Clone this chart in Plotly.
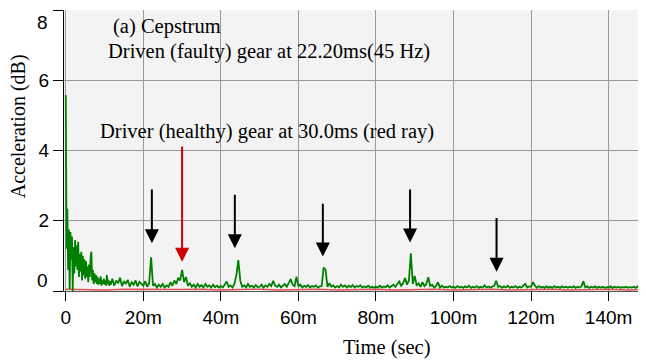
import numpy as np
import plotly.graph_objects as go

# ---- data (time in ms, cepstrum amplitude in dB) ----
# early part, fine sampling (0.2 ms), 0 - 11.8 ms
early_step_ms = 0.2
early_vals = [
    5.58, 1.20, 2.34, 0.60, 1.75, 0.05, 1.68, 0.90, 1.55, 0.00,
    1.25, 0.50, 1.45, 0.70, 1.30, 0.60, 1.40, 0.40, 1.05, 0.55,
    1.12, 0.30, 1.00, 0.45, 0.90, 0.35, 0.85, 0.40, 0.70, 0.25,
    0.75, 0.40, 0.95, 1.12, 0.30, 0.60, 0.20, 0.50, 0.25, 0.45,
    0.20, 0.40, 0.18, 0.35, 0.20, 0.42, 0.15, 0.30, 0.20, 0.35,
    0.18, 0.30, 0.15, 0.45, 0.20, 0.32, 0.15, 0.28, 0.18, 0.30,
]
# main part, 0.5 ms sampling, 12.0 - 149.5 ms
main_start_ms = 12.0
main_step_ms = 0.5
main_vals = [
    0.35, 0.15, 0.30, 0.22, 0.38, 0.14, 0.28, 0.20, 0.32, 0.12, 0.25, 0.18, 0.30, 0.13, 0.26, 0.20,
    0.15, 0.28, 0.12, 0.22, 0.96, 0.15, 0.20, 0.10, 0.18, 0.12, 0.20, 0.10, 0.16, 0.12, 0.25, 0.15, 0.30, 0.20, 0.38, 0.30,
    0.60, 0.25, 0.40, 0.15, 0.22, 0.12, 0.18, 0.10, 0.20, 0.12, 0.17, 0.10, 0.20, 0.12, 0.16, 0.10, 0.18, 0.11, 0.15, 0.10,
    0.14, 0.10, 0.18, 0.27, 0.12, 0.16, 0.10, 0.20, 0.45, 0.88, 0.30, 0.12, 0.16, 0.10, 0.20, 0.12, 0.15, 0.10, 0.17, 0.11,
    0.12, 0.18, 0.10, 0.16, 0.12, 0.20, 0.14, 0.29, 0.15, 0.12, 0.18, 0.10, 0.15, 0.20, 0.12, 0.25, 0.34, 0.18, 0.14, 0.41,
    0.13, 0.18, 0.10, 0.15, 0.12, 0.17, 0.10, 0.14, 0.12, 0.16, 0.10, 0.13, 0.14, 0.67, 0.60, 0.12, 0.22, 0.12, 0.16, 0.10,
    0.14, 0.10, 0.18, 0.12, 0.16, 0.10, 0.15, 0.11, 0.17, 0.10, 0.14, 0.12, 0.16, 0.10, 0.13, 0.11, 0.15, 0.10, 0.12, 0.10,
    0.12, 0.10, 0.15, 0.10, 0.13, 0.11, 0.16, 0.10, 0.14, 0.18, 0.12, 0.20, 0.27, 0.15, 0.22, 0.37, 0.18, 0.30, 1.07, 0.20,
    0.43, 0.15, 0.22, 0.12, 0.25, 0.14, 0.20, 0.39, 0.14, 0.18, 0.10, 0.14, 0.25, 0.10, 0.15, 0.10, 0.12, 0.10, 0.14, 0.10,
    0.12, 0.09, 0.14, 0.10, 0.12, 0.09, 0.13, 0.10, 0.15, 0.09, 0.12, 0.10, 0.14, 0.09, 0.12, 0.10, 0.16, 0.10, 0.13, 0.10,
    0.12, 0.15, 0.29, 0.12, 0.14, 0.09, 0.13, 0.10, 0.15, 0.09, 0.12, 0.10, 0.14, 0.09, 0.12, 0.10, 0.15, 0.20, 0.10, 0.13,
    0.12, 0.25, 0.15, 0.09, 0.14, 0.10, 0.12, 0.09, 0.13, 0.10, 0.12, 0.09, 0.14, 0.10, 0.12, 0.09, 0.13, 0.10, 0.12, 0.09,
    0.12, 0.10, 0.13, 0.09, 0.12, 0.10, 0.13, 0.28, 0.10, 0.13, 0.09, 0.12, 0.10, 0.13, 0.09, 0.12, 0.10, 0.12, 0.09, 0.11,
    0.10, 0.13, 0.09, 0.12, 0.10, 0.12, 0.09, 0.11, 0.10, 0.12, 0.09, 0.11, 0.10, 0.12, 0.09, 0.13, 0.10, 0.11, 0.10, 0.10,
]
early_ms = np.arange(len(early_vals)) * early_step_ms
main_ms = main_start_ms + np.arange(len(main_vals)) * main_step_ms
green_ms = np.concatenate([early_ms, main_ms])
green_vals = early_vals + main_vals

red_ms = list(range(0, 155, 5))
red_vals = [0.05, 0.04, 0.03, 0.05, 0.04, 0.03, 0.04, 0.05, 0.03, 0.04, 0.05, 0.03, 0.04, 0.05, 0.03, 0.04,
            0.05, 0.03, 0.04, 0.05, 0.03, 0.04, 0.05, 0.03, 0.04, 0.05, 0.03, 0.04, 0.05, 0.03, 0.04]

x_tickvals = [0, 20, 40, 60, 80, 100, 120, 140]
x_ticktext = ["0", "20m", "40m", "60m", "80m", "100m", "120m", "140m"]
y_tickvals = [0, 2, 4, 6, 8]

# arrows: x (ms), tail value, tip value
black_arrow_ms = [22.2, 43.6, 66.3, 88.8, 111.1]
black_arrow_top = [2.93, 2.78, 2.53, 2.93, 2.12]
black_arrow_tip = [1.36, 1.22, 0.98, 1.38, 0.55]
red_arrow_ms = [30.0]
red_arrow_top = [4.16]
red_arrow_tip = [0.83]

serif = "Liberation Serif, Times New Roman, serif"
sans = "Liberation Sans, Arial, sans-serif"

fig = go.Figure()
fig.add_trace(go.Scatter(x=red_ms, y=red_vals, mode="lines",
                         line=dict(color="#e05050", width=1.5), showlegend=False))
fig.add_trace(go.Scatter(x=green_ms, y=green_vals, mode="lines",
                         line=dict(color="#008000", width=1.8), showlegend=False))

ann = []
for xm, top, tip in zip(black_arrow_ms, black_arrow_top, black_arrow_tip):
    ann.append(dict(x=xm, y=tip, ax=xm, ay=top, xref="x", yref="y", axref="x", ayref="y",
                    text="", showarrow=True, arrowhead=2, arrowsize=1.4, arrowwidth=2,
                    arrowcolor="black"))
for xm, top, tip in zip(red_arrow_ms, red_arrow_top, red_arrow_tip):
    ann.append(dict(x=xm, y=tip, ax=xm, ay=top, xref="x", yref="y", axref="x", ayref="y",
                    text="", showarrow=True, arrowhead=2, arrowsize=1.4, arrowwidth=2,
                    arrowcolor="#cc0000"))

txt_font = dict(family=serif, size=20.5, color="black")
ann += [
    dict(text="(a) Cepstrum", x=0.0809, y=0.9406, xref="paper", yref="paper",
         xanchor="left", yanchor="middle", showarrow=False, font=txt_font),
    dict(text="Driven (faulty) gear at 22.20ms(45 Hz)", x=0.0723, y=0.8516, xref="paper", yref="paper",
         xanchor="left", yanchor="middle", showarrow=False, font=txt_font),
    dict(text="Driver (healthy) gear at 30.0ms (red ray)", x=0.0594, y=0.5669, xref="paper", yref="paper",
         xanchor="left", yanchor="middle", showarrow=False, font=txt_font),
    dict(text="Time (sec)", x=0.5593, y=-0.2028, xref="paper", yref="paper",
         xanchor="center", yanchor="middle", showarrow=False, font=txt_font),
    dict(text="Acceleration (dB)", x=-0.0775, y=0.5872, xref="paper", yref="paper", textangle=-90,
         xanchor="center", yanchor="middle", showarrow=False, borderpad=0,
         font=dict(family=serif, size=20, color="black")),
    dict(text="0", x=-0.0234, y=0, xref="paper", yref="y", yshift=10.5,
         xanchor="right", yanchor="middle", showarrow=False, font=dict(family=sans, size=19, color="black")),
    dict(text="8", x=-0.0234, y=8, xref="paper", yref="y", yshift=-12.7,
         xanchor="right", yanchor="middle", showarrow=False, font=dict(family=sans, size=19, color="black")),
]

# the page body adds an 8px offset, so the figure is sized to fill the rest of the window
fig.update_layout(
    width=638, height=354,
    margin=dict(l=56, r=5, t=2, b=71),
    paper_bgcolor="white", plot_bgcolor="#f3f3f3",
    annotations=ann, showlegend=False,
    xaxis=dict(range=[-0.46, 148.36], tickvals=x_tickvals, ticktext=x_ticktext,
               showgrid=True, gridcolor="#9a9a9a", gridwidth=1, zeroline=False,
               showline=True, linecolor="#555555", linewidth=1,
               ticks="outside", ticklen=9, tickcolor="black", tickwidth=1,
               tickfont=dict(family=sans, size=19, color="black")),
    yaxis=dict(range=[0, 8], tickvals=y_tickvals, ticktext=["", "2", "4", "6", ""],
               showgrid=True, gridcolor="#9a9a9a", gridwidth=1, zeroline=False,
               showline=True, linecolor="black", linewidth=1,
               ticks="outside", ticklen=10, tickcolor="black", tickwidth=1,
               tickfont=dict(family=sans, size=19, color="black")),
)

fig.write_html("out.html")
